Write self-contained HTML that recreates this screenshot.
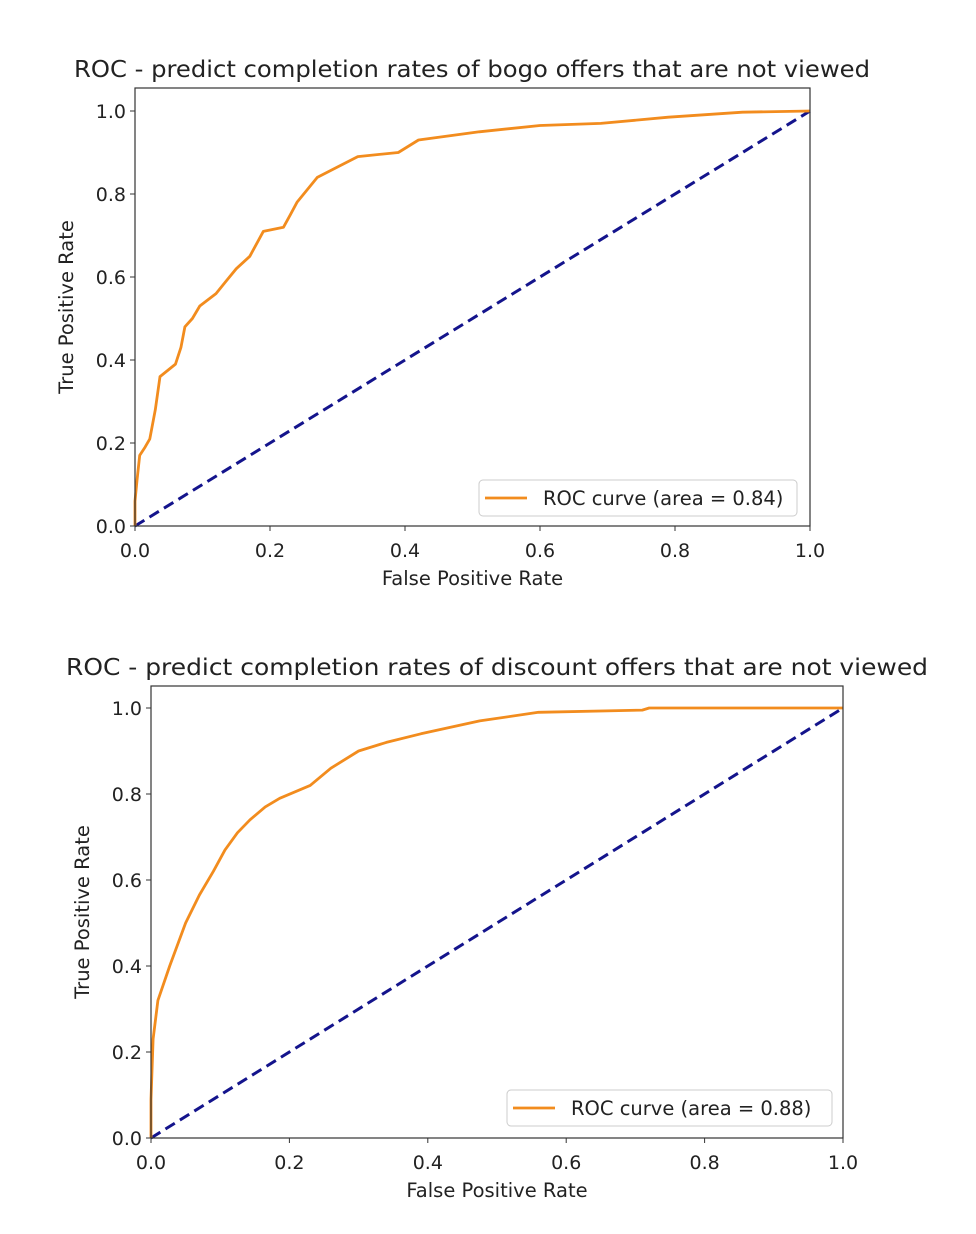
<!DOCTYPE html>
<html><head><meta charset="utf-8"><style>
body{margin:0;background:#fff;}
svg{display:block;font-family:"DejaVu Sans","Liberation Sans",sans-serif;}
</style></head><body>
<svg id="svg" width="976" height="1234" viewBox="0 0 976 1234"></svg>
<script>
const ticks=[0,0.2,0.4,0.6,0.8,1.0];
const tickLabels=["0.0","0.2","0.4","0.6","0.8","1.0"];
const bogoFpr=[0,0,0.003,0.007,0.015,0.022,0.03,0.037,0.06,0.068,0.074,0.085,0.096,0.12,0.135,0.15,0.17,0.19,0.22,0.23,0.24,0.27,0.30,0.33,0.39,0.42,0.51,0.6,0.69,0.79,0.9,1];
const bogoTpr=[0,0.06,0.11,0.17,0.19,0.21,0.28,0.36,0.39,0.43,0.48,0.50,0.53,0.56,0.59,0.62,0.65,0.71,0.72,0.75,0.78,0.84,0.865,0.89,0.90,0.93,0.95,0.965,0.97,0.985,0.997,1];
const discFpr=[0,0,0.003,0.01,0.027,0.05,0.07,0.09,0.107,0.125,0.143,0.165,0.186,0.23,0.26,0.30,0.34,0.39,0.475,0.56,0.71,0.72,1];
const discTpr=[0,0.09,0.23,0.32,0.40,0.50,0.565,0.62,0.67,0.71,0.74,0.77,0.79,0.82,0.86,0.90,0.92,0.94,0.97,0.99,0.995,1,1];
const NS="http://www.w3.org/2000/svg";
const svg=document.getElementById('svg');
function mk(tag,attrs,parent){const e=document.createElementNS(NS,tag);for(const k in attrs)e.setAttribute(k,attrs[k]);(parent||svg).appendChild(e);return e;}
function chart(cfg){
  const g=mk('g',{});
  
  
  const sx=v=>cfg.x0+v*(cfg.x1-cfg.x0), sy=v=>cfg.y0+v*(cfg.y1-cfg.y0);
  const t=mk('text',{x:cfg.tl,y:cfg.top-11,'font-size':23,fill:'#222',textLength:cfg.tw,lengthAdjust:'spacingAndGlyphs'},g);t.textContent=cfg.title;
  
  
  const d=mk('line',{x1:sx(0),y1:sy(0),x2:sx(1),y2:sy(1),stroke:'#14148c','stroke-width':3,'stroke-dasharray':'11,6'},g);
  
  
  const pts=cfg.fpr.map((f,i)=>sx(f).toFixed(1)+','+sy(cfg.tpr[i]).toFixed(1)).join(' ');
  const c=mk('polyline',{points:pts,fill:'none',stroke:'#f28c1e','stroke-width':2.8,'stroke-linejoin':'round'},g);
  
  
  const frame=mk('rect',{x:cfg.x0,y:cfg.top,width:cfg.x1-cfg.x0,height:cfg.y0-cfg.top,fill:'none',stroke:'#333','stroke-width':1.2},g);
  
  
  ticks.forEach((v,i)=>{
    mk('line',{x1:sx(v),y1:cfg.y0,x2:sx(v),y2:cfg.y0+5,stroke:'#333'},g);
    const xl=mk('text',{x:sx(v),y:cfg.y0+31,'text-anchor':'middle','font-size':19,fill:'#222'},g);xl.textContent=tickLabels[i];
    
    
    mk('line',{x1:cfg.x0-5,y1:sy(v),x2:cfg.x0,y2:sy(v),stroke:'#333'},g);
    const yl=mk('text',{x:cfg.x0-9,y:sy(v)+7,'text-anchor':'end','font-size':19,fill:'#222'},g);yl.textContent=tickLabels[i];
    
    
  });
  const xt=mk('text',{x:(cfg.x0+cfg.x1)/2,y:cfg.y0+59,'text-anchor':'middle','font-size':19.5,fill:'#222'},g);xt.textContent='False Positive Rate';
  
  
  const yx=cfg.x0-62, yy=(cfg.top+cfg.y0)/2;
  const yt=mk('text',{x:yx,y:yy,'text-anchor':'middle','font-size':19.5,fill:'#222',transform:`rotate(-90 ${yx} ${yy})`},g);yt.textContent='True Positive Rate';
  
  
  const lg=mk('g',{},g);
  
  
  mk('rect',{x:cfg.lx,y:cfg.ly,width:cfg.lw,height:36,rx:4,fill:'#fff',stroke:'#ccc'},lg);
  mk('line',{x1:cfg.lx+6,y1:cfg.ly+18,x2:cfg.lx+48,y2:cfg.ly+18,stroke:'#f28c1e','stroke-width':2.8},lg);
  const lt=mk('text',{x:cfg.lx+64,y:cfg.ly+25,'font-size':19.5,fill:'#222'},lg);lt.textContent=cfg.legend;
}
chart({name:'bogo-roc-chart',title:'ROC - predict completion rates of bogo offers that are not viewed',tl:74,tw:796,top:88,x0:135,x1:810,y0:526,y1:111,fpr:bogoFpr,tpr:bogoTpr,lx:479,ly:480,lw:318,legend:'ROC curve (area = 0.84)'});
chart({name:'discount-roc-chart',title:'ROC - predict completion rates of discount offers that are not viewed',tl:66,tw:862,top:686,x0:151,x1:843,y0:1138,y1:708,fpr:discFpr,tpr:discTpr,lx:507,ly:1090,lw:325,legend:'ROC curve (area = 0.88)'});
</script>
</body></html>
